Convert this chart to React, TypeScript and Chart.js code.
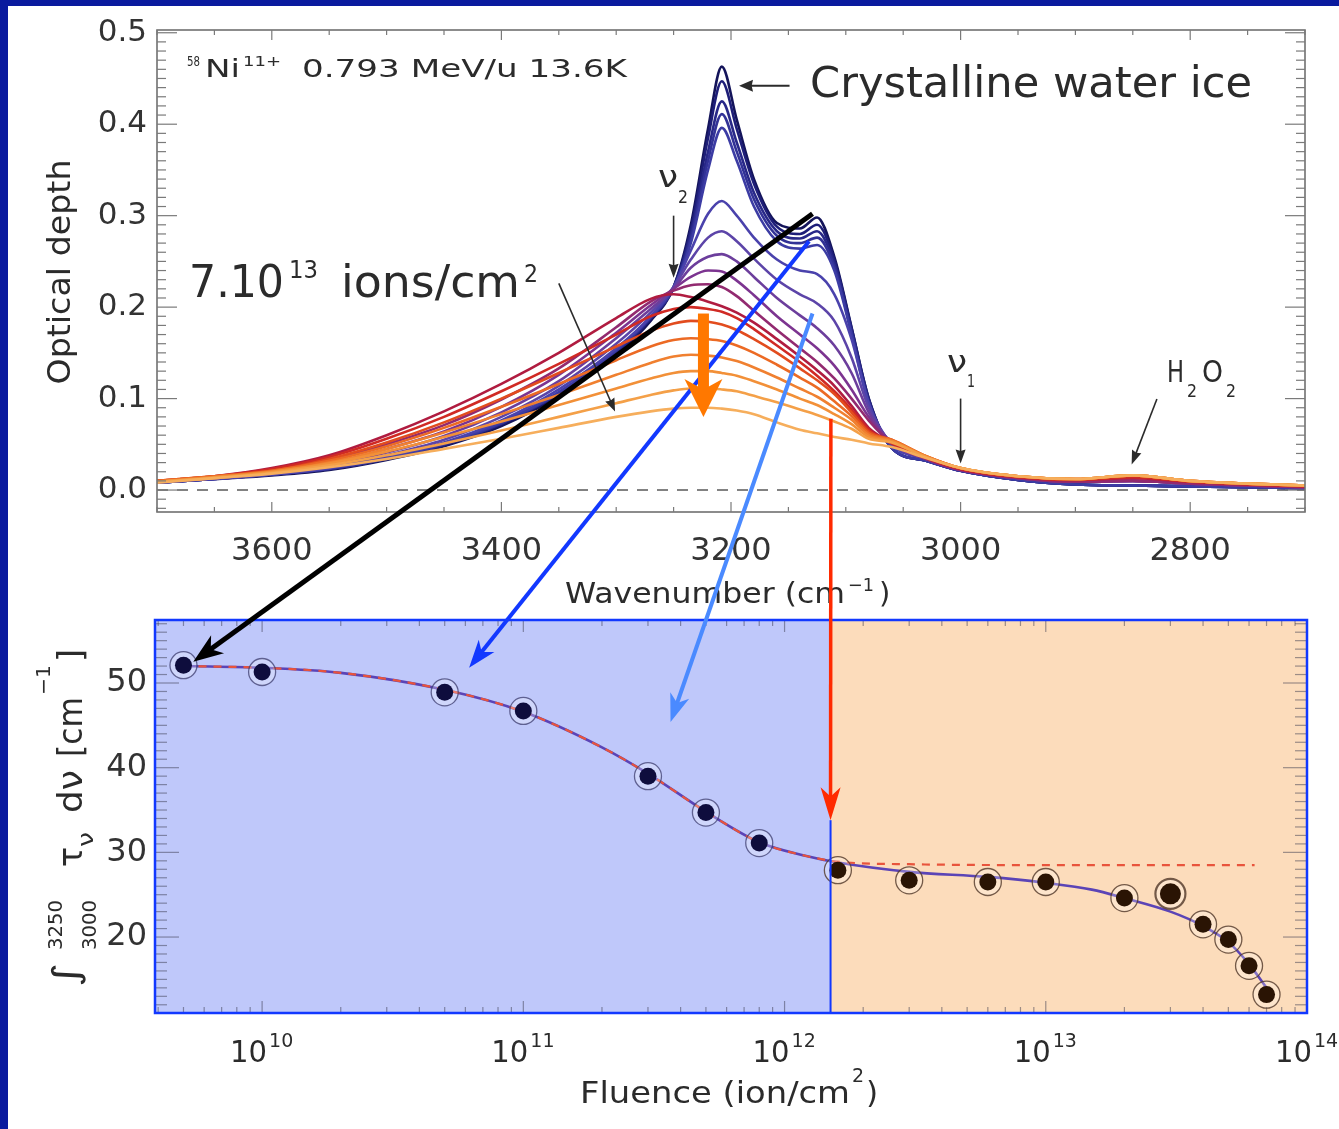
import React, { useEffect, useRef } from 'react';
import { Chart, registerables } from 'chart.js';

Chart.register(...registerables);

const FONT = '"DejaVu Sans", "Liberation Sans", sans-serif';
const TEXT = '#2b2b2b';

// ---------------- top panel: spectra ----------------
const WAVENUMBERS = [3700, 3650, 3600, 3550, 3500, 3450, 3400, 3350, 3300, 3270, 3250, 3235, 3220, 3208, 3195, 3180, 3160, 3140, 3125, 3110, 3095, 3080, 3060, 3030, 3000, 2950, 2900, 2850, 2800, 2750, 2700];

const TAU_S0 = [0.008, 0.012, 0.016, 0.022, 0.033, 0.048, 0.070, 0.103, 0.148, 0.185, 0.222, 0.290, 0.395, 0.463, 0.405, 0.340, 0.292, 0.286, 0.298, 0.255, 0.178, 0.100, 0.046, 0.032, 0.021, 0.011, 0.006, 0.005, 0.004, 0.003, 0.002];
const TAU_S1 = [0.008, 0.012, 0.017, 0.023, 0.034, 0.049, 0.072, 0.105, 0.150, 0.187, 0.222, 0.285, 0.385, 0.447, 0.395, 0.335, 0.288, 0.280, 0.290, 0.252, 0.177, 0.100, 0.046, 0.032, 0.021, 0.011, 0.006, 0.005, 0.004, 0.003, 0.002];
const TAU_S2 = [0.008, 0.012, 0.017, 0.023, 0.034, 0.050, 0.073, 0.106, 0.151, 0.188, 0.221, 0.280, 0.370, 0.425, 0.380, 0.325, 0.283, 0.275, 0.283, 0.248, 0.175, 0.098, 0.046, 0.032, 0.021, 0.011, 0.006, 0.005, 0.004, 0.003, 0.002];
const TAU_S3 = [0.008, 0.012, 0.017, 0.023, 0.034, 0.050, 0.073, 0.106, 0.152, 0.189, 0.221, 0.275, 0.360, 0.411, 0.370, 0.318, 0.278, 0.270, 0.276, 0.244, 0.172, 0.096, 0.046, 0.032, 0.021, 0.011, 0.006, 0.005, 0.004, 0.003, 0.002];
const TAU_S4 = [0.008, 0.012, 0.017, 0.024, 0.035, 0.051, 0.074, 0.107, 0.153, 0.189, 0.221, 0.270, 0.350, 0.396, 0.360, 0.310, 0.272, 0.264, 0.268, 0.240, 0.170, 0.094, 0.046, 0.032, 0.021, 0.011, 0.006, 0.005, 0.004, 0.003, 0.002];
const TAU_S5 = [0.008, 0.012, 0.017, 0.024, 0.036, 0.052, 0.076, 0.110, 0.155, 0.190, 0.222, 0.262, 0.302, 0.316, 0.300, 0.276, 0.252, 0.240, 0.236, 0.214, 0.165, 0.095, 0.050, 0.034, 0.022, 0.013, 0.009, 0.010, 0.007, 0.005, 0.003];
const TAU_S6 = [0.008, 0.013, 0.018, 0.025, 0.038, 0.055, 0.080, 0.114, 0.160, 0.194, 0.222, 0.252, 0.276, 0.283, 0.272, 0.253, 0.230, 0.214, 0.204, 0.185, 0.145, 0.090, 0.051, 0.034, 0.022, 0.013, 0.009, 0.010, 0.007, 0.005, 0.003];
const TAU_S7 = [0.009, 0.013, 0.019, 0.027, 0.041, 0.059, 0.085, 0.119, 0.166, 0.198, 0.220, 0.243, 0.255, 0.258, 0.250, 0.233, 0.210, 0.191, 0.177, 0.158, 0.128, 0.085, 0.052, 0.034, 0.022, 0.013, 0.009, 0.010, 0.007, 0.005, 0.003];
const TAU_S8 = [0.009, 0.014, 0.020, 0.029, 0.045, 0.064, 0.091, 0.126, 0.172, 0.202, 0.220, 0.233, 0.240, 0.239, 0.229, 0.213, 0.190, 0.170, 0.155, 0.136, 0.110, 0.080, 0.052, 0.034, 0.022, 0.013, 0.009, 0.010, 0.007, 0.005, 0.003];
const TAU_S9 = [0.009, 0.014, 0.021, 0.032, 0.050, 0.071, 0.099, 0.133, 0.178, 0.206, 0.218, 0.224, 0.225, 0.222, 0.212, 0.196, 0.175, 0.155, 0.140, 0.122, 0.100, 0.076, 0.051, 0.034, 0.022, 0.013, 0.009, 0.010, 0.007, 0.005, 0.003];
const TAU_S10 = [0.010, 0.015, 0.024, 0.038, 0.060, 0.086, 0.116, 0.150, 0.188, 0.209, 0.214, 0.211, 0.206, 0.201, 0.194, 0.183, 0.165, 0.146, 0.131, 0.114, 0.092, 0.068, 0.052, 0.035, 0.023, 0.014, 0.011, 0.013, 0.009, 0.006, 0.004];
const TAU_S11 = [0.010, 0.015, 0.023, 0.036, 0.056, 0.080, 0.108, 0.138, 0.170, 0.190, 0.198, 0.200, 0.198, 0.195, 0.188, 0.176, 0.158, 0.140, 0.125, 0.108, 0.088, 0.066, 0.051, 0.035, 0.023, 0.014, 0.011, 0.014, 0.009, 0.006, 0.004];
const TAU_S12 = [0.010, 0.015, 0.021, 0.034, 0.052, 0.074, 0.100, 0.128, 0.157, 0.174, 0.182, 0.185, 0.184, 0.181, 0.175, 0.165, 0.150, 0.133, 0.120, 0.105, 0.085, 0.064, 0.055, 0.037, 0.024, 0.015, 0.012, 0.016, 0.010, 0.007, 0.005];
const TAU_S13 = [0.010, 0.015, 0.021, 0.032, 0.048, 0.068, 0.091, 0.116, 0.142, 0.157, 0.164, 0.166, 0.165, 0.163, 0.158, 0.150, 0.137, 0.123, 0.112, 0.097, 0.081, 0.062, 0.055, 0.037, 0.024, 0.015, 0.012, 0.016, 0.010, 0.007, 0.005];
const TAU_S14 = [0.009, 0.014, 0.020, 0.030, 0.045, 0.063, 0.083, 0.104, 0.126, 0.139, 0.146, 0.148, 0.147, 0.145, 0.141, 0.134, 0.123, 0.111, 0.102, 0.090, 0.077, 0.060, 0.054, 0.037, 0.024, 0.015, 0.012, 0.016, 0.010, 0.007, 0.005];
const TAU_S15 = [0.009, 0.014, 0.020, 0.029, 0.042, 0.058, 0.075, 0.093, 0.111, 0.122, 0.128, 0.130, 0.130, 0.128, 0.125, 0.119, 0.110, 0.100, 0.093, 0.083, 0.072, 0.058, 0.053, 0.036, 0.024, 0.015, 0.012, 0.016, 0.010, 0.007, 0.005];
const TAU_S16 = [0.009, 0.013, 0.019, 0.027, 0.038, 0.051, 0.065, 0.080, 0.095, 0.104, 0.109, 0.111, 0.111, 0.110, 0.108, 0.103, 0.096, 0.088, 0.082, 0.075, 0.067, 0.056, 0.052, 0.036, 0.024, 0.015, 0.012, 0.016, 0.010, 0.007, 0.005];
const TAU_S17 = [0.008, 0.013, 0.018, 0.025, 0.034, 0.045, 0.056, 0.068, 0.080, 0.086, 0.089, 0.090, 0.090, 0.089, 0.087, 0.083, 0.074, 0.066, 0.062, 0.058, 0.055, 0.051, 0.047, 0.035, 0.024, 0.015, 0.012, 0.016, 0.010, 0.007, 0.005];

const SPECTRA = [TAU_S0, TAU_S1, TAU_S2, TAU_S3, TAU_S4, TAU_S5, TAU_S6, TAU_S7, TAU_S8, TAU_S9, TAU_S10, TAU_S11, TAU_S12, TAU_S13, TAU_S14, TAU_S15, TAU_S16, TAU_S17];
const SPECTRUM_COLORS = ['#14145a', '#1e1e78', '#282888', '#323296', '#3c3ca4', '#4a42ac', '#5c44a8', '#6c3e9c', '#7c3490', '#922a70', '#b01c40', '#d02a24', '#e24c1e', '#ec6a24', '#f08030', '#f29038', '#f4a048', '#f6ae5c'];

const WN_TICKS = [3600, 3400, 3200, 3000, 2800];
const OD_TICKS = [0, 0.1, 0.2, 0.3, 0.4, 0.5];

// ---------------- bottom panel: integrated band ----------------
const FLUENCE = [5e9, 1e10, 5e10, 1e11, 3e11, 5e11, 8e11, 1.6e12, 3e12, 6e12, 1e13, 2e13, 3e13, 4e13, 5e13, 6e13, 7e13];
const BAND_AREA = [52.1, 51.3, 48.9, 46.7, 39.0, 34.7, 31.1, 27.9, 26.7, 26.5, 26.5, 24.6, 25.1, 21.5, 19.7, 16.6, 13.2];
const FIT_FLUENCE = [5e9, 1e10, 2e10, 5e10, 1e11, 2e11, 3e11, 5e11, 8e11, 1.2e12, 1.6e12, 3e12, 6e12, 1e13, 1.5e13, 2e13, 3e13, 4e13, 5e13, 6e13, 7e13];
const FIT_AREA = [52.0, 51.8, 51.2, 49.2, 46.6, 42.4, 39.3, 34.8, 31.2, 29.6, 28.8, 27.7, 27.1, 26.4, 25.6, 24.6, 23.0, 21.3, 19.4, 16.8, 14.0];
const SAT_FLUENCE = [5e9, 1e10, 2e10, 5e10, 1e11, 2e11, 3e11, 5e11, 8e11, 1.2e12, 1.6e12, 3e12, 1e13, 3e13, 6.3e13];
const SAT_AREA = [52.0, 51.8, 51.2, 49.2, 46.6, 42.4, 39.3, 34.8, 31.2, 29.6, 28.9, 28.6, 28.5, 28.5, 28.5];
const AREA_TICKS = [20, 30, 40, 50];
const FLUENCE_DECADES = [10, 11, 12, 13, 14];
const BOUNDARY_FLUENCE = 1.5e12;

const TOP_H = 612;
const BOT_TOP = 605;
const BOT_H = 1129 - BOT_TOP;

function txt(ctx: any, s: string, x: number, y: number, size: number, o: any = {}) {
  const { w, align = 'left', color = TEXT } = o;
  ctx.save();
  ctx.font = `${size}px ${FONT}`;
  ctx.fillStyle = color;
  ctx.textBaseline = 'alphabetic';
  ctx.textAlign = 'left';
  const m = ctx.measureText(s).width;
  const sx = w ? w / m : 1;
  const ww = m * sx;
  const x0 = align === 'center' ? x - ww / 2 : align === 'right' ? x - ww : x;
  ctx.translate(x0, y);
  ctx.scale(sx, 1);
  ctx.fillText(s, 0, 0);
  ctx.restore();
  return ww;
}

function arrow(ctx: any, p1: number[], p2: number[], color: string, width: number, len: number, half: number, notch = 0.72) {
  const [x1, y1] = p1;
  const [x2, y2] = p2;
  const a = Math.atan2(y2 - y1, x2 - x1);
  const dx = Math.cos(a), dy = Math.sin(a);
  const nx = -dy, ny = dx;
  ctx.save();
  ctx.strokeStyle = color;
  ctx.fillStyle = color;
  ctx.lineWidth = width;
  ctx.lineCap = 'butt';
  ctx.beginPath();
  ctx.moveTo(x1, y1);
  ctx.lineTo(x2 - dx * len * (notch - 0.05), y2 - dy * len * (notch - 0.05));
  ctx.stroke();
  ctx.beginPath();
  ctx.moveTo(x2, y2);
  ctx.lineTo(x2 - dx * len + nx * half, y2 - dy * len + ny * half);
  ctx.lineTo(x2 - dx * len * notch, y2 - dy * len * notch);
  ctx.lineTo(x2 - dx * len - nx * half, y2 - dy * len - ny * half);
  ctx.closePath();
  ctx.fill();
  ctx.restore();
}

function seg(ctx: any, x1: number, y1: number, x2: number, y2: number) {
  ctx.beginPath();
  ctx.moveTo(x1, y1);
  ctx.lineTo(x2, y2);
  ctx.stroke();
}

const topDecor = {
  id: 'topDecor',
  afterDraw(chart: any) {
    const { ctx, chartArea: ca, scales } = chart;
    const x = scales.x, y = scales.y;
    const T = (wn: number, v: number) => [x.getPixelForValue(wn), y.getPixelForValue(v)];
    ctx.save();
    ctx.strokeStyle = '#707070';
    ctx.lineWidth = 1.6;
    ctx.strokeRect(ca.left, ca.top, ca.right - ca.left, ca.bottom - ca.top);
    ctx.lineWidth = 1.2;
    ctx.strokeStyle = '#7a7a7a';
    for (let w = 2700; w <= 3700; w += 50) {
      const px = x.getPixelForValue(w);
      const len = w % 200 === 0 ? 10 : 5;
      seg(ctx, px, ca.bottom, px, ca.bottom - len);
      seg(ctx, px, ca.top, px, ca.top + len);
    }
    for (let i = -2; i <= 50; i++) {
      const py = y.getPixelForValue(i / 100);
      const len = i % 10 === 0 ? 20 : 9;
      seg(ctx, ca.left, py, ca.left + len, py);
      seg(ctx, ca.right, py, ca.right - len, py);
    }
    ctx.restore();

    // annotations
    txt(ctx, '58', 187, 66, 14, { w: 13 });
    txt(ctx, 'Ni', 205, 77, 25, { w: 35 });
    txt(ctx, '11+', 243, 66, 14, { w: 38 });
    txt(ctx, '0.793 MeV/u 13.6K', 302, 77, 25, { w: 325 });

    txt(ctx, 'Crystalline water ice', 810, 97, 42, { w: 442 });
    arrow(ctx, T(3149, 0.442), T(3193, 0.442), '#2b2b2b', 2, 14, 6, 0.9);

    txt(ctx, '7.10', 189, 297, 45, { w: 95 });
    txt(ctx, '13', 289, 278, 24, { w: 29 });
    txt(ctx, 'ions/cm', 341, 297, 45, { w: 179 });
    txt(ctx, '2', 524, 282, 24, { w: 14 });
    arrow(ctx, T(3350, 0.226), T(3301, 0.086), '#2b2b2b', 1.6, 13, 5, 0.9);

    txt(ctx, 'ν', 658, 187, 30, { w: 20 });
    txt(ctx, '2', 678, 203, 18, { w: 10 });
    arrow(ctx, T(3250, 0.3), T(3250, 0.232), '#2b2b2b', 1.6, 14, 5, 0.9);

    txt(ctx, 'ν', 947, 372, 30, { w: 20 });
    txt(ctx, '1', 967, 387, 18, { w: 8 });
    arrow(ctx, T(3000, 0.1), T(3000, 0.029), '#2b2b2b', 1.6, 14, 5, 0.9);

    txt(ctx, 'H', 1167, 382, 30, { w: 17 });
    txt(ctx, '2', 1187, 397, 18, { w: 10 });
    txt(ctx, 'O', 1202, 382, 30, { w: 21 });
    txt(ctx, '2', 1226, 397, 18, { w: 10 });
    arrow(ctx, T(2829, 0.0995), T(2851, 0.028), '#2b2b2b', 1.6, 14, 5, 0.9);

    // axis titles
    ctx.save();
    ctx.translate(70, 272);
    ctx.rotate(-Math.PI / 2);
    txt(ctx, 'Optical depth', 0, 0, 32, { w: 225, align: 'center' });
    ctx.restore();
    txt(ctx, 'Wavenumber (cm', 565, 603, 29, { w: 280 });
    txt(ctx, '−1', 848, 591, 18, { w: 26 });
    txt(ctx, ')', 879, 603, 29);
  },
};

const bottomDecor = {
  id: 'bottomDecor',
  beforeDatasetsDraw(chart: any) {
    const { ctx, chartArea: ca, scales } = chart;
    const x = scales.x, y = scales.y;
    const xb = x.getPixelForValue(BOUNDARY_FLUENCE);
    ctx.save();
    ctx.fillStyle = '#bfc8fa';
    ctx.fillRect(ca.left, ca.top, xb - ca.left, ca.bottom - ca.top);
    ctx.fillStyle = '#fcdcbb';
    ctx.fillRect(xb, ca.top, ca.right - xb, ca.bottom - ca.top);
    ctx.strokeStyle = 'rgba(60,60,80,0.5)';
    ctx.lineWidth = 1.2;
    for (let d = 9; d <= 13; d++) {
      for (let m = 1; m <= 9; m++) {
        const f = m * Math.pow(10, d);
        if (f < x.min || f > x.max) continue;
        const px = x.getPixelForValue(f);
        const len = m === 1 ? 12 : 6;
        seg(ctx, px, ca.bottom, px, ca.bottom - len);
        seg(ctx, px, ca.top, px, ca.top + len);
      }
    }
    for (let v = 12; v <= 57; v++) {
      const py = y.getPixelForValue(v);
      const len = v % 10 === 0 ? 24 : 12;
      seg(ctx, ca.left, py, ca.left + len, py);
      seg(ctx, ca.right, py, ca.right - len, py);
    }
    ctx.restore();
  },
  afterDatasetsDraw(chart: any) {
    const { ctx, chartArea: ca, scales } = chart;
    const x = scales.x, y = scales.y;
    const xb = x.getPixelForValue(BOUNDARY_FLUENCE);
    const Y = (pageY: number) => pageY - BOT_TOP;
    ctx.save();
    ctx.strokeStyle = '#1238ff';
    ctx.lineWidth = 2;
    seg(ctx, xb, y.getPixelForValue(33.8), xb, ca.bottom);
    ctx.lineWidth = 2.5;
    ctx.strokeRect(ca.left, ca.top, ca.right - ca.left, ca.bottom - ca.top);
    ctx.restore();

    // log tick labels
    FLUENCE_DECADES.forEach((d) => {
      const px = x.getPixelForValue(Math.pow(10, d));
      txt(ctx, '10', px - 32, Y(1062), 31, { w: 37 });
      txt(ctx, String(d), px + 7, Y(1047), 19);
    });

    // x title
    txt(ctx, 'Fluence (ion/cm', 580, Y(1103), 31, { w: 270 });
    txt(ctx, '2', 852, Y(1082), 19);
    txt(ctx, ')', 866, Y(1103), 31);

    // y title (rotated)
    ctx.save();
    ctx.translate(82, Y(990));
    ctx.rotate(-Math.PI / 2);
    txt(ctx, '∫', 3, -4, 36, { w: 24 });
    txt(ctx, '3250', 40, -20, 20, { w: 50 });
    txt(ctx, '3000', 40, 14, 20, { w: 50 });
    txt(ctx, 'τ', 123, 0, 34, { w: 20 });
    txt(ctx, 'ν', 143, 11, 22, { w: 15 });
    txt(ctx, 'dν', 177, 0, 34, { w: 43 });
    txt(ctx, '[cm', 233, 0, 34, { w: 60 });
    txt(ctx, '−1', 295, -32, 20, { w: 30 });
    txt(ctx, ']', 328, 0, 34, { w: 13 });
    ctx.restore();
  },
};

function zeroPad(s: any) {
  s.paddingTop = 0;
  s.paddingBottom = 0;
  s.paddingLeft = 0;
  s.paddingRight = 0;
}

export default function App() {
  const topRef = useRef<HTMLCanvasElement>(null);
  const botRef = useRef<HTMLCanvasElement>(null);
  const ovRef = useRef<HTMLCanvasElement>(null);

  useEffect(() => {
    const spectraSets: any[] = SPECTRA.map((s, i) => ({
      data: WAVENUMBERS.map((w, j) => ({ x: w, y: s[j] })),
      borderColor: SPECTRUM_COLORS[i],
      borderWidth: 2.6,
      pointRadius: 0,
      cubicInterpolationMode: 'monotone',
      fill: false,
    }));
    spectraSets.reverse();
    spectraSets.push({
      data: [{ x: 3700, y: 0 }, { x: 2700, y: 0 }],
      borderColor: '#5a5a5a',
      borderDash: [11, 9],
      borderWidth: 1.6,
      pointRadius: 0,
    });

    const tickFont = { family: 'DejaVu Sans', size: 32 };
    const top = new Chart(topRef.current as any, {
      type: 'line',
      data: { datasets: spectraSets },
      plugins: [topDecor],
      options: {
        responsive: false,
        animation: false,
        events: [],
        layout: { padding: { left: 0, top: 30, right: 34, bottom: 0 } },
        plugins: { legend: { display: false }, tooltip: { enabled: false } },
        scales: {
          x: {
            type: 'linear',
            reverse: true,
            min: 2700,
            max: 3700,
            afterBuildTicks: (s: any) => { s.ticks = WN_TICKS.map((v) => ({ value: v })); },
            afterFit: (s: any) => { s.height = 100; zeroPad(s); },
            grid: { display: false, drawTicks: false },
            border: { display: false },
            ticks: { font: tickFont, color: '#333', padding: 20, maxRotation: 0, autoSkip: false, callback: (v: any) => String(v) },
          },
          y: {
            min: -0.024,
            max: 0.503,
            afterBuildTicks: (s: any) => { s.ticks = OD_TICKS.map((v) => ({ value: v })); },
            afterFit: (s: any) => { s.width = 157; zeroPad(s); },
            grid: { display: false, drawTicks: false },
            border: { display: false },
            ticks: { font: { family: 'DejaVu Sans', size: 31 }, color: '#333', padding: 10, callback: (v: any) => Number(v).toFixed(1) },
          },
        },
      } as any,
    });

    const pts = FLUENCE.map((f, i) => ({ x: f, y: BAND_AREA[i] }));
    const isRight = (c: any) => c.raw && c.raw.x > BOUNDARY_FLUENCE;
    const bot = new Chart(botRef.current as any, {
      type: 'line',
      data: {
        datasets: [
          {
            data: pts,
            showLine: false,
            pointRadius: (c: any) => (c.dataIndex === 12 ? 10.5 : 8.5),
            pointBackgroundColor: (c: any) => (isRight(c) ? '#2a1404' : '#0e0d3d'),
            pointBorderWidth: 0,
          },
          {
            data: pts,
            showLine: false,
            pointRadius: (c: any) => (c.dataIndex === 12 ? 15 : 13.5),
            pointBackgroundColor: 'rgba(255,255,255,0.25)',
            pointBorderColor: (c: any) => (isRight(c) ? 'rgba(80,55,40,0.8)' : 'rgba(60,60,110,0.75)'),
            pointBorderWidth: (c: any) => (c.dataIndex === 12 ? 2.2 : 1.3),
          },
          {
            data: SAT_FLUENCE.map((f, i) => ({ x: f, y: SAT_AREA[i] })),
            borderColor: '#e8543c',
            borderDash: [8, 7],
            borderWidth: 2.2,
            pointRadius: 0,
            cubicInterpolationMode: 'monotone',
          },
          {
            data: FIT_FLUENCE.map((f, i) => ({ x: f, y: FIT_AREA[i] })),
            borderColor: '#5b44b6',
            borderWidth: 2.6,
            pointRadius: 0,
            cubicInterpolationMode: 'monotone',
          },
        ],
      },
      plugins: [bottomDecor],
      options: {
        responsive: false,
        animation: false,
        events: [],
        layout: { padding: { left: 0, top: 620 - BOT_TOP, right: 32, bottom: 0 } },
        plugins: { legend: { display: false }, tooltip: { enabled: false } },
        scales: {
          x: {
            type: 'logarithmic',
            min: 3.89e9,
            max: 1e14,
            afterFit: (s: any) => { s.height = BOT_H - (1013 - BOT_TOP); zeroPad(s); },
            grid: { display: false, drawTicks: false },
            border: { display: false },
            ticks: { display: false },
          },
          y: {
            min: 11.03,
            max: 57.44,
            afterBuildTicks: (s: any) => { s.ticks = AREA_TICKS.map((v) => ({ value: v })); },
            afterFit: (s: any) => { s.width = 155; zeroPad(s); },
            grid: { display: false, drawTicks: false },
            border: { display: false },
            ticks: { font: tickFont, color: '#333', padding: 8 },
          },
        },
      } as any,
    });

    // overlay arrows linking the two panels
    const ov = ovRef.current as HTMLCanvasElement;
    const ctx = ov.getContext('2d') as any;
    ctx.clearRect(0, 0, ov.width, ov.height);
    const tx: any = top.scales.x, ty: any = top.scales.y;
    const bx: any = bot.scales.x, by: any = bot.scales.y;
    const T = (wn: number, v: number) => [tx.getPixelForValue(wn), ty.getPixelForValue(v)];
    const B = (f: number, a: number) => [bx.getPixelForValue(f), by.getPixelForValue(a) + BOT_TOP];
    arrow(ctx, T(3129, 0.302), B(5.45e9, 52.5), '#000000', 5, 30, 11);
    arrow(ctx, T(3132, 0.272), B(6.2e10, 51.8), '#1238ff', 4, 28, 10);
    arrow(ctx, T(3129, 0.193), B(3.66e11, 45.4), '#4a8aff', 4, 28, 10);
    arrow(ctx, T(3113, 0.078), B(BOUNDARY_FLUENCE, 33.8), '#ff2a00', 3.5, 33, 10);
    arrow(ctx, T(3224, 0.193), T(3224, 0.080), '#ff7800', 11, 38, 19);

    return () => {
      top.destroy();
      bot.destroy();
    };
  }, []);

  return (
    <div style={{ position: 'absolute', left: 0, top: 0, width: 1339, height: 1129, background: '#ffffff', overflow: 'hidden' }}>
      <canvas ref={topRef} width={1339} height={TOP_H} style={{ position: 'absolute', left: 0, top: 0, width: 1339, height: TOP_H }} />
      <canvas ref={botRef} width={1339} height={BOT_H} style={{ position: 'absolute', left: 0, top: BOT_TOP, width: 1339, height: BOT_H }} />
      <canvas ref={ovRef} width={1339} height={1129} style={{ position: 'absolute', left: 0, top: 0, width: 1339, height: 1129, pointerEvents: 'none' }} />
      <div style={{ position: 'absolute', left: 0, top: 0, width: 1339, height: 6, background: '#0a1a9e' }} />
      <div style={{ position: 'absolute', left: 0, top: 0, width: 8, height: 1129, background: '#0a1a9e' }} />
    </div>
  );
}
